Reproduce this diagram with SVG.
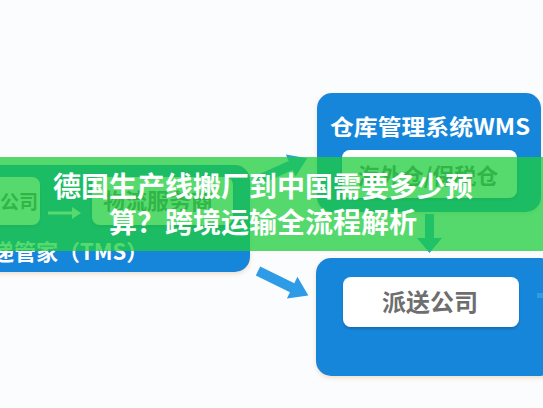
<svg xmlns="http://www.w3.org/2000/svg" width="543" height="408" viewBox="0 0 543 408">
  <defs>
    <filter id="sh" x="-10%" y="-10%" width="120%" height="130%">
      <feDropShadow dx="0" dy="2" stdDeviation="2" flood-color="#d9b98f" flood-opacity="0.45"/>
    </filter>
    <filter id="ish" x="-10%" y="-10%" width="120%" height="140%">
      <feDropShadow dx="0" dy="2" stdDeviation="1" flood-color="#0b4f8a" flood-opacity="0.5"/>
    </filter>
    <style>
      .outer { fill: #1786db; filter: url(#sh); }
      .inner { fill: #ffffff; filter: url(#ish); }
      .head { font-family: "Noto Sans CJK SC", "Liberation Sans", sans-serif; font-weight: bold; fill: #ffffff; }
      .lbl { font-family: "Noto Sans CJK SC", "Liberation Sans", sans-serif; font-weight: bold; fill: #6e6e6e; }
      .arrow { fill: #2e9be6; }
      .title { font-family: "Noto Sans CJK SC", "Liberation Sans", sans-serif; font-weight: bold; fill: #ffffff; font-size: 28px; text-anchor: middle; }
    </style>
  </defs>
  <rect x="0" y="0" width="543" height="408" fill="#fbfcfd"/>

  <g id="tms">
    <rect class="outer" x="-20" y="165" width="270" height="107" rx="15"/>
    <text class="head" x="-8" y="260" font-size="22">递管家（TMS）</text>
  </g>
  <g id="company-left">
    <rect class="inner" x="-12" y="177" width="52" height="48" rx="8"/>
    <text class="lbl" x="0" y="209" font-size="19">公司</text>
  </g>
  <g id="logistics">
    <rect class="inner" x="92" y="177" width="141" height="48" rx="8"/>
    <text class="lbl" x="158" y="209" font-size="22" text-anchor="middle">物流服务商</text>
  </g>
  <g id="wms">
    <rect class="outer" x="317" y="93" width="224" height="119" rx="15"/>
    <text class="head" x="330" y="135" font-size="22" textLength="200" lengthAdjust="spacingAndGlyphs">仓库管理系统WMS</text>
  </g>
  <g id="overseas">
    <rect class="inner" x="342" y="150" width="175" height="48" rx="8"/>
    <text class="lbl" x="428" y="184" font-size="22" text-anchor="middle">海外仓/保税仓</text>
  </g>
  <g id="delivery-box">
    <rect class="outer" x="316" y="258" width="240" height="118" rx="15"/>
  </g>
  <g id="delivery">
    <rect class="inner" x="343" y="277" width="176" height="50" rx="8"/>
    <text class="lbl" x="430" y="311" font-size="24" text-anchor="middle">派送公司</text>
  </g>

  <g id="connectors">
    <path fill="#ffffff" d="M48 211.5 H72 V207 L81 213 L72 219 V214.5 H48 Z"/>
    <g transform="translate(256 181) rotate(-24)">
      <path class="arrow" d="M0 -5 H38 V-12 L56 0 L38 12 V5 H0 Z"/>
    </g>
    <g transform="translate(258 271) rotate(26)">
      <path class="arrow" d="M0 -5 H38 V-12 L56 0 L38 12 V5 H0 Z"/>
    </g>
    <path class="arrow" d="M425 214 H434 V238 H442 L429.5 253 L417 238 H425 Z"/>
    <rect class="arrow" x="537" y="293" width="6" height="5"/>
  </g>

  <g id="banner">
    <rect x="0" y="157" width="543" height="94" fill="#1ecd3c" fill-opacity="0.75"/>
    <text class="title" x="263" y="197">德国生产线搬厂到中国需要多少预</text>
    <text class="title" x="263" y="233">算？跨境运输全流程解析</text>
  </g>
</svg>
